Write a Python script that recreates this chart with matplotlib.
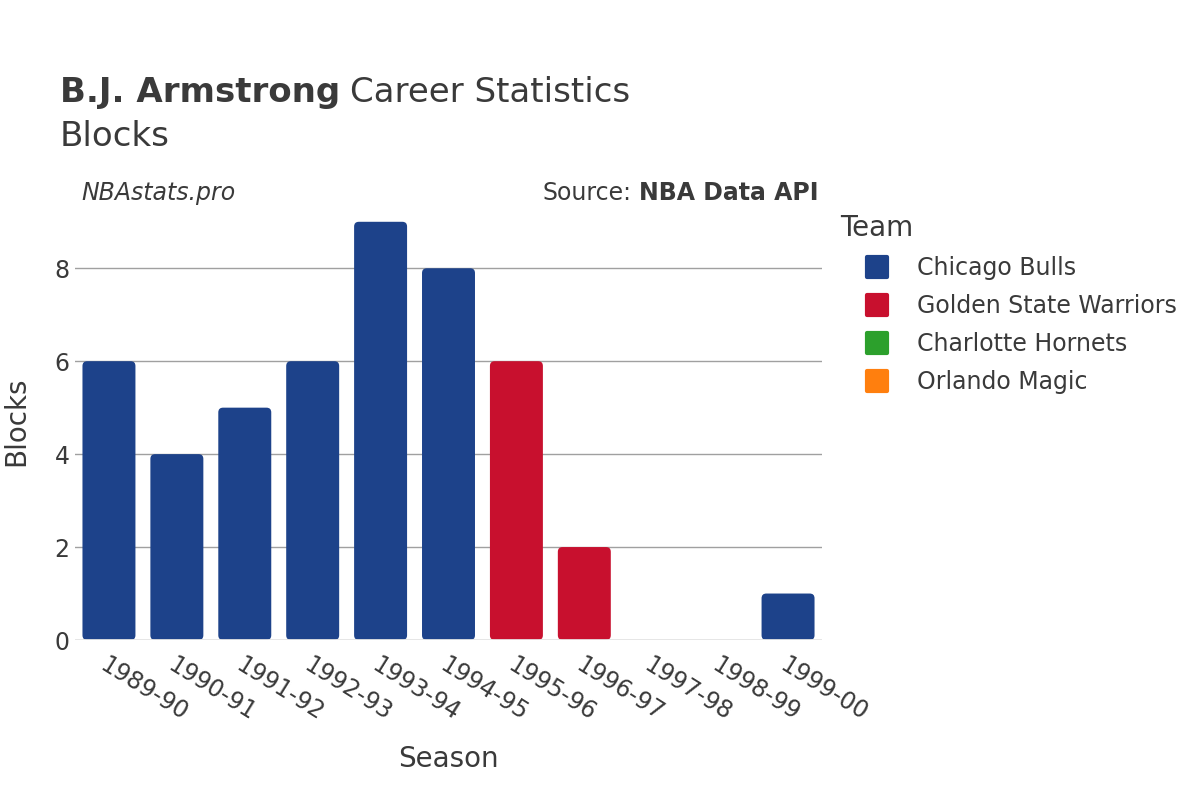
import matplotlib.pyplot as plt
from matplotlib.lines import Line2D
from matplotlib.markers import MarkerStyle
from matplotlib.patches import FancyBboxPatch

# data
seasons = ['1989-90', '1990-91', '1991-92', '1992-93', '1993-94', '1994-95',
           '1995-96', '1996-97', '1997-98', '1998-99', '1999-00']
blocks = [6, 4, 5, 6, 9, 8, 6, 2, 0, 0, 1]
teams = ['Chicago Bulls', 'Chicago Bulls', 'Chicago Bulls', 'Chicago Bulls',
         'Chicago Bulls', 'Chicago Bulls', 'Golden State Warriors',
         'Golden State Warriors', 'Charlotte Hornets', 'Orlando Magic',
         'Chicago Bulls']
team_names = ['Chicago Bulls', 'Golden State Warriors', 'Charlotte Hornets', 'Orlando Magic']
team_colors = ['#1d428a', '#c8102e', '#2ca02c', '#ff7f0e']

color_of = dict(zip(team_names, team_colors))
text_col = '#3a3a3a'

fig = plt.figure(figsize=(12, 8), dpi=100)
ax = fig.add_axes([0.0625, 0.2, 0.6225, 0.546])

x = range(len(seasons))
bars = ax.bar(x, blocks, width=0.78, color=[color_of[t] for t in teams], zorder=3)

ax.set_xlim(-0.5, len(seasons) - 0.5)
ax.set_ylim(0, 9.4)

# swap plain bars for ones with rounded corners
for b in bars:
    b.set_visible(False)
    if b.get_height() > 0:
        ax.add_patch(FancyBboxPatch((b.get_x(), b.get_y()), b.get_width(), b.get_height(),
                                    boxstyle='round,pad=0,rounding_size=0.07',
                                    mutation_aspect=1.46, facecolor=b.get_facecolor(),
                                    edgecolor='none', zorder=3))

ax.set_yticks([0, 2, 4, 6, 8])
ax.yaxis.grid(True, color='#a0a0a0', linewidth=1, zorder=0)
ax.axhline(0, color='#e6e6e6', linewidth=2, zorder=4)
for s in ax.spines.values():
    s.set_visible(False)
ax.tick_params(axis='both', length=0, labelsize=17, colors=text_col)
ax.tick_params(axis='y', pad=4)
ax.set_xticks(list(x))
ax.set_xticklabels(seasons, rotation=-32, ha='left', rotation_mode='anchor')
ax.tick_params(axis='x', pad=9)

ax.set_xlabel('Season', fontsize=20, color=text_col, labelpad=14)
ax.set_ylabel('Blocks', fontsize=20, color=text_col)
ax.yaxis.set_label_coords(-0.06, 0.5)

fig.canvas.draw()
r = fig.canvas.get_renderer()
t1 = fig.text(0.05, 0.872, 'B.J. Armstrong', fontsize=24.5, color=text_col, weight='bold')
bb = t1.get_window_extent(r)
fig.text(bb.x1 / 1200 + 0.008, 0.872, 'Career Statistics', fontsize=24.5, color=text_col)
fig.text(0.05, 0.818, 'Blocks', fontsize=24.5, color=text_col)
fig.text(0.068, 0.750, 'NBAstats.pro', fontsize=17, color=text_col, style='italic')
t2 = fig.text(0.682, 0.750, 'NBA Data API', fontsize=17, color=text_col, ha='right', weight='bold')
bb2 = t2.get_window_extent(r)
fig.text(bb2.x0 / 1200 - 0.006, 0.750, 'Source:', fontsize=17, color=text_col, ha='right')

sq = MarkerStyle('s', joinstyle='round')
handles = [Line2D([], [], marker=sq, linestyle='', markersize=14, markeredgewidth=3,
                  markerfacecolor=c, markeredgecolor=c) for c in team_colors]
leg = fig.legend(handles, team_names, loc='upper left', bbox_to_anchor=(0.700, 0.733),
                 frameon=False, fontsize=17, title='Team', title_fontsize=20,
                 labelcolor=text_col, handlelength=3.1, handletextpad=0.15,
                 labelspacing=0.6, alignment='left', borderaxespad=0, borderpad=0)
leg.get_title().set_color(text_col)

fig.savefig('out.png', dpi=100)
